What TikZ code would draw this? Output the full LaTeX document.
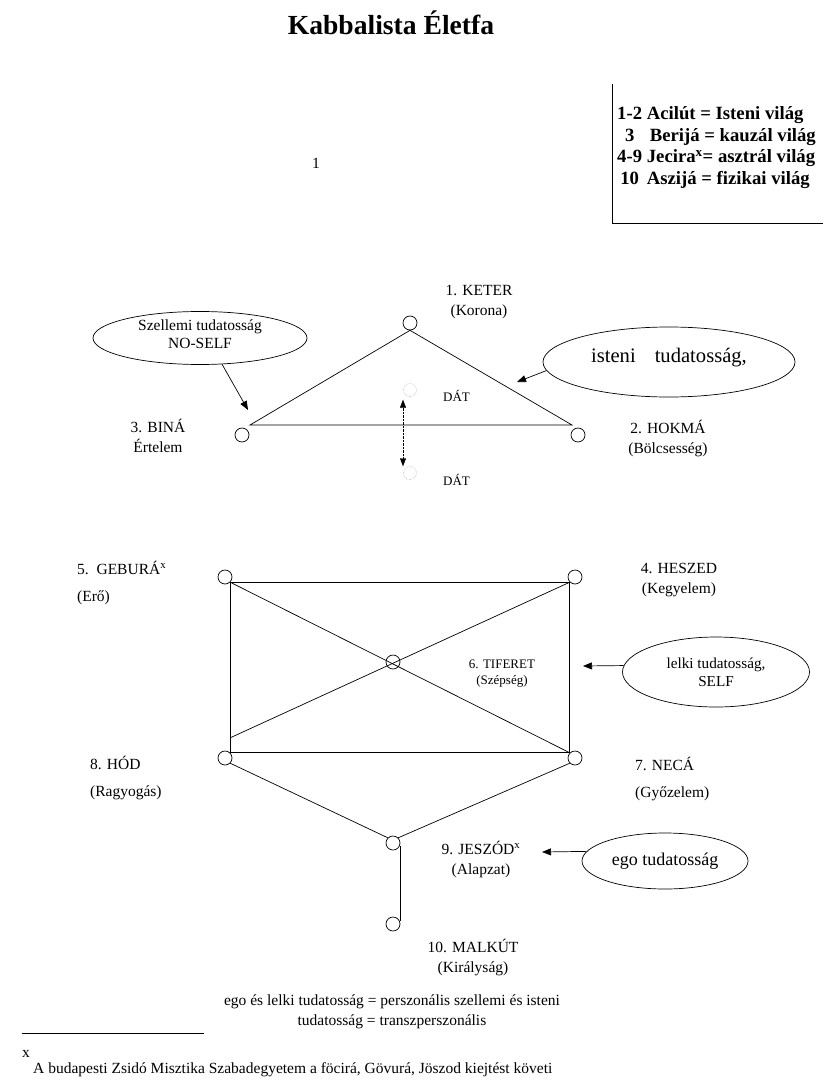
\documentclass[tikz,border=0pt]{standalone}
\usepackage{fontspec}
\setmainfont{Liberation Serif}
\usetikzlibrary{positioning,shapes.geometric,arrows.meta,calc}

\begin{document}
\begin{tikzpicture}[x=1pt,y=-1pt,
    sefira/.style={draw, circle, minimum size=14pt, inner sep=0pt, line width=0.7pt},
    datkor/.style={draw=gray, densely dotted, circle, minimum size=13pt, inner sep=0pt},
    nev/.style={font=\fontsize{15.5}{20}\selectfont, align=center, inner sep=0pt, anchor=base},
    kisnev/.style={font=\fontsize{13}{16}\selectfont, align=center, inner sep=0pt, anchor=base},
    tudat/.style={draw, ellipse, inner sep=0pt, align=center, line width=0.7pt},
    nyil/.style={-{Triangle[length=9pt,width=7pt]}, line width=0.7pt},
    vonal/.style={line width=0.7pt}
]
\useasboundingbox (0,0) rectangle (837,1089);

\node[font=\bfseries\fontsize{27.6}{32}\selectfont, anchor=base, inner sep=0pt] (cim) at (391,35) {Kabbalista Életfa};
\node[nev, anchor=base west] (egyes) at (312,168) {1};

\node[font=\bfseries\fontsize{18.7}{21.5}\selectfont, align=left, anchor=base west, inner sep=0pt] (vilagok) at (617,184) {%
    \makebox[25pt][c]{1-2} Acilút = Isteni világ\\
    \makebox[25pt][c]{3}\hspace{3pt} Berijá = kauzál világ\\
    \makebox[25pt][c]{4-9} Jecira\textsuperscript{x}= asztrál világ\\
    \makebox[25pt][c]{10} Aszijá = fizikai világ};
\draw[vonal] (612,84) |- (823,223);

% sefirot
\node[sefira] (keter) at (410,323) {};
\node[sefira] (hokma) at (578,435) {};
\node[sefira] (bina) at (242,435) {};
\node[datkor] (dat) at (410,390) {};
\node[datkor] (datlent) at (410,473) {};
\node[sefira] (heszed) at (575,577) {};
\node[sefira] (gebura) at (225,577) {};
\node[sefira] (tiferet) at (393,662) {};
\node[sefira] (neca) at (575,758) {};
\node[sefira] (hod) at (225,758) {};
\node[sefira] (jeszod) at (393,843) {};
\node[sefira] (malkut) at (393,924) {};

\coordinate (binacsucs) at ($(bina)+(8,-10)$);
\coordinate (hokmacsucs) at ($(hokma)+(-6,-10)$);
\draw[vonal] (keter.south) -- (binacsucs) -- (hokmacsucs) -- cycle;
\draw[densely dotted, {Triangle[length=8pt,width=6pt]}-{Triangle[length=8pt,width=6pt]}]
    ($(dat.south)+(-7,3)$) -- ($(datlent.north)+(-7,0)$);

\draw[line width=1.2pt] (gebura.south east) -- (heszed.south west) -- (neca.north west) -- (hod.north east) -- cycle;
\draw[vonal] (gebura.south east) -- (neca.north west);
\draw[vonal] ($(hod.north east)+(0,-15)$) -- (heszed.south west);
\draw[vonal] (hod.south east) -- (jeszod.north west);
\draw[vonal] (neca.south west) -- (jeszod.north east);
\draw[vonal] (jeszod.-20) -- (malkut.20);

% nevek
\node[nev] (keternev) at (479,315) {1. KETER\\(Korona)};
\node[nev] (hokmanev) at (668,453) {2. HOKMÁ\\(Bölcsesség)};
\node[nev] (binanev) at (158,452) {3. BINÁ\\Értelem};
\node[kisnev, anchor=base west] (datnev) at (443,401) {DÁT};
\node[kisnev, anchor=base west] (datlentnev) at (443,485) {DÁT};
\node[nev] (heszednev) at (679,593) {4. HESZED\\(Kegyelem)};
\node[nev, align=left, anchor=base west] (geburanev) at (77,601) {5.\ \ GEBURÁ\textsuperscript{x}\\[7pt](Erő)};
\node[kisnev] (tiferetnev) at (502,684) {6. TIFERET\\(Szépség)};
\node[nev, align=left, anchor=base west] (necanev) at (635,797) {7. NECÁ\\[7pt](Győzelem)};
\node[nev, align=left, anchor=base west] (hodnev) at (90,796) {8. HÓD\\[7pt](Ragyogás)};
\node[nev] (jeszodnev) at (481,874) {9. JESZÓD\textsuperscript{x}\\(Alapzat)};
\node[nev] (malkutnev) at (473,972) {10. MALKÚT\\(Királyság)};

% tudatossag
\node[tudat, minimum width=214pt, minimum height=53pt, font=\fontsize{15.5}{18}\selectfont,
    text height=24pt, text depth=4pt] (szellemi) at (200,338) {Szellemi tudatosság\\NO-SELF};
\node[tudat, minimum width=252pt, minimum height=70pt, font=\fontsize{20.6}{24}\selectfont,
    text height=14pt, text depth=14pt] (isteni) at (669,362) {isteni\hspace{19pt}tudatosság,};
\node[tudat, minimum width=187pt, minimum height=70pt, font=\fontsize{15.2}{18}\selectfont] (lelki) at (716,672) {lelki tudatosság,\\SELF};
\node[tudat, minimum width=166pt, minimum height=56pt, font=\fontsize{18}{21}\selectfont] (ego) at (665,861) {ego tudatosság};

\coordinate (binanyil) at ($(bina)+(6,-25)$);
\coordinate (keternyil) at (517,382);
\coordinate (tiferetnyil) at (583,666);
\coordinate (jeszodnyil) at (542,852);
\draw[nyil] (szellemi.-50) -- (binanyil);
\draw[nyil] (isteni.184) -- (keternyil);
\draw[nyil] (lelki.176) -- (tiferetnyil);
\draw[nyil] (ego.173) -- (jeszodnyil);

\node[nev] (osszeg) at (392,1025) {ego és lelki tudatosság = perszonális szellemi és isteni\\tudatosság = transzperszonális};

\draw[vonal] (22,1033) -- (204,1033);
\node[nev, anchor=base west] (jel) at (22,1057) {x};
\node[nev, anchor=base west] (labjegyzet) at (33,1073) {A budapesti Zsidó Misztika Szabadegyetem a föcirá, Gövurá, Jöszod kiejtést követi};
\end{tikzpicture}
\end{document}
